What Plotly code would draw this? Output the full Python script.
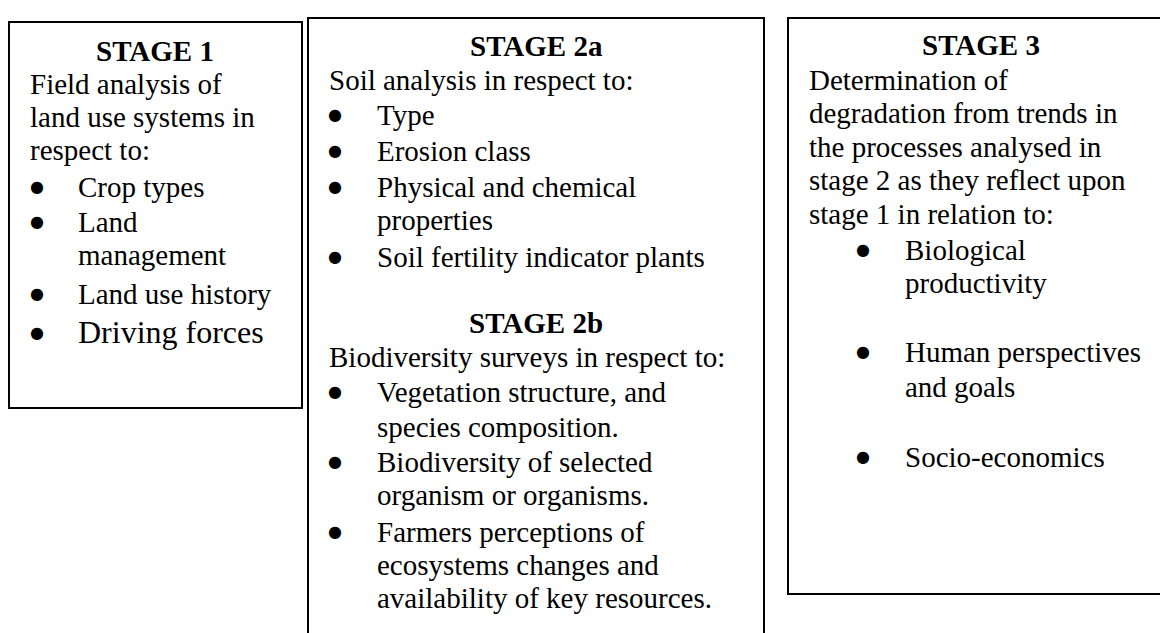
import plotly.graph_objects as go

# ---------------- content ----------------
stage1_title = "STAGE 1"
stage1_intro = ["Field analysis of", "land use systems in", "respect to:"]
stage1_bullets = [["Crop types"], ["Land", "management"], ["Land use history"], ["Driving forces"]]

stage2a_title = "STAGE 2a"
stage2a_intro = ["Soil analysis in respect to:"]
stage2a_bullets = [["Type"], ["Erosion class"], ["Physical and chemical", "properties"],
                   ["Soil fertility indicator plants"]]

stage2b_title = "STAGE 2b"
stage2b_intro = ["Biodiversity surveys in respect to:"]
stage2b_bullets = [["Vegetation structure, and", "species composition."],
                   ["Biodiversity of selected", "organism or organisms."],
                   ["Farmers perceptions of", "ecosystems changes and", "availability of key resources."]]

stage3_title = "STAGE 3"
stage3_intro = ["Determination of", "degradation from trends in", "the processes analysed in",
                "stage 2 as they reflect upon", "stage 1 in relation to:"]
stage3_bullets = [["Biological", "productivity"], ["Human perspectives", "and goals"], ["Socio-economics"]]

# ---------------- layout (pixel positions) ----------------
W, H = 1160, 633
FONT = "Liberation Serif, Times New Roman, serif"
SIZE = 29
BULLET_SIZE = 16
K = 0.3375  # baseline offset from text-box centre, in em

boxes = [
    (9, 22, 302, 408),
    (308, 18, 764, 660),
    (788, 18, 1176, 594),
]

blocks = [
    dict(title=stage1_title, intro=stage1_intro, bullets=stage1_bullets,
         cx=155, xt=30, xb=37, xs=78,
         base=[61, 94, 127, 160, 197, 232, 265, 304, 343],
         sizes={"Driving forces": 32}),
    dict(title=stage2a_title, intro=stage2a_intro, bullets=stage2a_bullets,
         cx=536, xt=329, xb=335, xs=377,
         base=[56, 90, 125, 161, 197, 230, 267], sizes={}),
    dict(title=stage2b_title, intro=stage2b_intro, bullets=stage2b_bullets,
         cx=536, xt=329, xb=335, xs=377,
         base=[333, 367, 402, 437, 472, 505, 542, 575, 608], sizes={}),
    dict(title=stage3_title, intro=stage3_intro, bullets=stage3_bullets,
         cx=981, xt=809, xb=863, xs=905,
         base=[55, 90, 123, 157, 190, 224, 260, 293, 362, 397, 467], sizes={}),
]

fig = go.Figure()

for (x0, y0, x1, y1) in boxes:
    fig.add_shape(type="rect", xref="x", yref="y", x0=x0, y0=y0, x1=x1, y1=y1,
                  line=dict(color="#000000", width=2), fillcolor="rgba(0,0,0,0)")


def add_text(txt, x, baseline, size, anchor="left", bold=False):
    fig.add_annotation(
        x=x, y=baseline - K * size, xref="x", yref="y",
        text=("<b>%s</b>" % txt) if bold else txt,
        showarrow=False, xanchor=anchor, yanchor="middle",
        borderpad=0, borderwidth=0,
        font=dict(family=FONT, size=size, color="black"),
    )


def add_bullet(x, baseline):
    fig.add_annotation(
        x=x, y=baseline - 10.5, xref="x", yref="y", text="●",
        showarrow=False, xanchor="center", yanchor="middle",
        borderpad=0, borderwidth=0,
        font=dict(family="DejaVu Sans", size=BULLET_SIZE, color="black"),
    )


for b in blocks:
    base = list(b["base"])
    i = 0
    add_text(b["title"], b["cx"], base[i], SIZE, anchor="center", bold=True)
    i += 1
    for line in b["intro"]:
        add_text(line, b["xt"], base[i], SIZE)
        i += 1
    for item in b["bullets"]:
        for j, line in enumerate(item):
            s = b["sizes"].get(line, SIZE)
            if j == 0:
                add_bullet(b["xb"], base[i])
            add_text(line, b["xs"], base[i], s)
            i += 1

fig.update_layout(
    width=W, height=H,
    margin=dict(l=0, r=0, t=0, b=0),
    paper_bgcolor="white", plot_bgcolor="white",
    showlegend=False,
    xaxis=dict(range=[0, W], visible=False, fixedrange=True),
    yaxis=dict(range=[H, 0], visible=False, fixedrange=True),
)

fig.write_html("out.html", config={"displayModeBar": False},
               post_script="document.body.style.margin='0';")
